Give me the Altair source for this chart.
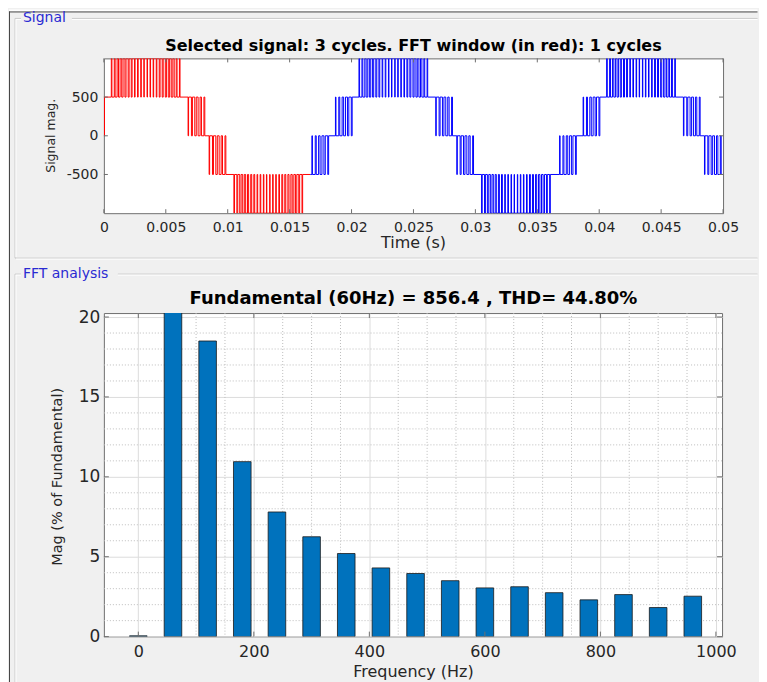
import altair as alt
import pandas as pd

# ---------------- data ----------------
# FFT analysis (bars): harmonic frequency (Hz) and magnitude (% of fundamental)
FREQ_HZ = [0, 60, 120, 180, 240, 300, 360, 420, 480, 540, 600, 660, 720, 780, 840, 900, 960]
MAG_PCT = [0.05, 100.0, 18.5, 10.95, 7.8, 6.25, 5.2, 4.3, 3.95, 3.5, 3.05, 3.12, 2.75, 2.3, 2.63, 1.82, 2.53]

FFT_X_TICKS = [0, 200, 400, 600, 800, 1000]
FFT_X_MINOR = [50, 100, 150, 250, 300, 350, 450, 500, 550, 650, 700, 750, 850, 900, 950]
FFT_Y_TICKS = [0, 5, 10, 15, 20]
FFT_Y_MINOR = [1, 2, 3, 4, 6, 7, 8, 9, 11, 12, 13, 14, 16, 17, 18, 19]

SIG_X_TICKS = [0, 0.005, 0.01, 0.015, 0.02, 0.025, 0.03, 0.035, 0.04, 0.045, 0.05]
SIG_Y_TICKS = [-500, 0, 500]

# Signal: the multilevel PWM pattern repeats every 0.02 s in the picture
CYCLE_STARTS = [-0.02, 0.0, 0.02, 0.04]
SEG_START = [0.0005, 0.0067, 0.0084, 0.0104, 0.0167, 0.0186]   # s, within a cycle
SEG_BASE = [500, 500, 0, -500, -500, 0]
SEG_PULSE = [1000, 0, -500, -1000, 0, 500]
SEG_KIND = ["wide", "ramp", "ramp", "wide", "ramp", "ramp"]
WIDE_PULSES_MS = [(0.10, 0.15), (0.34, 0.41), (0.57, 0.68), (0.81, 0.94), (1.05, 1.20),
                  (1.29, 1.46), (1.54, 1.71), (1.78, 1.97), (2.02, 2.22), (2.27, 2.48),
                  (2.52, 2.73), (2.76, 2.99), (3.02, 3.23), (3.27, 3.48), (3.52, 3.73),
                  (3.78, 3.97), (4.04, 4.21), (4.29, 4.46), (4.55, 4.70), (4.81, 4.94),
                  (5.07, 5.18), (5.34, 5.41), (5.60, 5.65)]
RAMP_PULSES_MS = [(0.10, 0.14), (0.37, 0.45), (0.64, 0.76), (0.91, 1.07), (1.18, 1.38)]
RAMP_SETTLE_MS = 1.45
T_RED_END = 1.0 / 60.0   # FFT window: 1 cycle

TOP_TITLE = "Selected signal: 3 cycles. FFT window (in red): 1 cycles"
BOT_TITLE = "Fundamental (60Hz) = 856.4 , THD= 44.80%"


def build_signal():
    events = []
    for c in CYCLE_STARTS:
        for s, base, pulse, kind in zip(SEG_START, SEG_BASE, SEG_PULSE, SEG_KIND):
            t0 = c + s
            pulses = WIDE_PULSES_MS if kind == "wide" else RAMP_PULSES_MS
            for a, b in pulses:
                events.append((t0 + a / 1000.0, pulse))
                events.append((t0 + b / 1000.0, base))
            if kind == "ramp":
                events.append((t0 + RAMP_SETTLE_MS / 1000.0, pulse))
    events.sort()

    def level_at(t):
        v = 0
        for te, ve in events:
            if te <= t:
                v = ve
            else:
                break
        return v

    inside = [(t, v) for t, v in events if 0 < t < 0.05]
    pts = [(0.0, level_at(0.0))] + inside + [(0.05, level_at(0.05))]
    vr = level_at(T_RED_END)
    rows = [{"t": t, "v": v, "part": "window"} for t, v in pts if t < T_RED_END]
    rows.append({"t": T_RED_END, "v": vr, "part": "window"})
    rows.append({"t": T_RED_END, "v": vr, "part": "rest"})
    rows += [{"t": t, "v": v, "part": "rest"} for t, v in pts if t > T_RED_END]
    return pd.DataFrame(rows)


FONT = "DejaVu Sans"
FRAME = "#6e6e6e"
TXT = "#262626"
BOX = "#c9c9c9"
RIGHT = 654.5           # right-most drawn pixel, relative to the plot left edge
BOTTOM_REL = 378        # lowest drawn pixel, relative to the FFT plot top
one = pd.DataFrame({"k": [0]})


def hline(x1, x2, y, color, w=1):
    return alt.Chart(one).mark_rule(color=color, strokeWidth=w).encode(
        x=alt.value(x1), x2=alt.value(x2), y=alt.value(y), y2=alt.value(y))


def vline(x, y1, y2, color, w=1):
    return alt.Chart(one).mark_rule(color=color, strokeWidth=w).encode(
        x=alt.value(x), x2=alt.value(x), y=alt.value(y1), y2=alt.value(y2))


def label(txt, x, y, size, weight="normal", color=TXT, angle=0, align="center"):
    return alt.Chart(one).mark_text(
        text=txt, font=FONT, fontSize=size, fontWeight=weight, color=color,
        angle=angle, align=align, baseline="middle").encode(x=alt.value(x), y=alt.value(y))


def axis(values, fmt_expr, pad, size, grid):
    return alt.Axis(values=values, labelExpr=fmt_expr, title=None, grid=grid, gridColor="#dcdcdc",
                    ticks=False, tickSize=0, domain=False, labelFont=FONT, labelFontSize=size,
                    labelColor=TXT, labelPadding=pad, labelFlush=False, labelOverlap=False)


# ---------------- top: signal ----------------
W1, H1 = 620, 155
xs1 = alt.Scale(domain=[0, 0.05], nice=False, zero=False)
ys1 = alt.Scale(domain=[-1000, 1000], nice=False, zero=False)
ax1x = axis(SIG_X_TICKS, "datum.value + ''", 7, 14, False)
ax1y = axis(SIG_Y_TICKS, "datum.value + ''", 6, 14, False)
sig_df = build_signal()

sig_line = alt.Chart(sig_df).mark_line(interpolate="step-after", strokeWidth=1, clip=True).encode(
    x=alt.X("t:Q", scale=xs1, axis=ax1x),
    y=alt.Y("v:Q", scale=ys1, axis=ax1y),
    color=alt.Color("part:N", scale=alt.Scale(domain=["window", "rest"], range=["#ff0000", "#0000ff"]),
                    legend=None),
    order=alt.Order("t:Q"),
)

sxt = pd.DataFrame({"t": SIG_X_TICKS})
syt = pd.DataFrame({"v": SIG_Y_TICKS})
sig_ticks = [
    alt.Chart(sxt).mark_rule(color=FRAME).encode(x=alt.X("t:Q", scale=xs1, axis=ax1x), y=alt.value(H1), y2=alt.value(H1 - 4)),
    alt.Chart(sxt).mark_rule(color=FRAME).encode(x=alt.X("t:Q", scale=xs1, axis=ax1x), y=alt.value(0), y2=alt.value(4)),
    alt.Chart(syt).mark_rule(color=FRAME).encode(y=alt.Y("v:Q", scale=ys1, axis=ax1y), x=alt.value(0), x2=alt.value(4)),
    alt.Chart(syt).mark_rule(color=FRAME).encode(y=alt.Y("v:Q", scale=ys1, axis=ax1y), x=alt.value(W1 - 4), x2=alt.value(W1)),
]

# window decorations (relative to the top plot origin)
deco_top = [
    alt.Chart(one).mark_rect(color="white").encode(x=alt.value(-95), x2=alt.value(RIGHT), y=alt.value(-49), y2=alt.value(-47)),
    hline(-95, RIGHT, -46.5, "#444444"),
    vline(-94.5, -47, 255 + BOTTOM_REL, "#444444"),
    hline(-89, -83, -40, BOX), hline(-89, -83, -39, "white"),
    hline(-32, RIGHT, -40, BOX), hline(-32, RIGHT, -39, "white"),
    vline(-89, -40, 200, BOX), vline(-88, -39, 199, "white"),
    hline(-89, RIGHT, 200, BOX), hline(-88, RIGHT, 201, "white"),
    label("Signal", -81, -40, 14, color="#2a2ad2", align="left"),
]

top_txt = [
    label(TOP_TITLE, 310, -12, 16, weight="bold", color="#000000"),
    label("Signal mag.", -53, 77.5, 12.5, angle=270),
    label("Time (s)", 310, 185, 16),
]

top = alt.layer(*deco_top, sig_line, *sig_ticks, *top_txt).properties(width=W1, height=H1)

# ---------------- bottom: FFT ----------------
W2, H2 = 619, 324
xs2 = alt.Scale(domain=[-51, 1002], nice=False, zero=False)
ys2 = alt.Scale(domain=[0, 20.25], nice=False, zero=False)
ax2x = axis(FFT_X_TICKS, "datum.value + ''", 7, 16, True)
ax2y = axis(FFT_Y_TICKS, "datum.value + ''", 4, 17, True)
fft_df = pd.DataFrame({"f": FREQ_HZ, "m": MAG_PCT})

xminor = alt.Chart(pd.DataFrame({"f": FFT_X_MINOR})).mark_rule(
    color="#bdbdbd", strokeDash=[1, 2], strokeWidth=1).encode(
    x=alt.X("f:Q", scale=xs2, axis=ax2x), y=alt.value(0), y2=alt.value(H2))
yminor = alt.Chart(pd.DataFrame({"m": FFT_Y_MINOR})).mark_rule(
    color="#bdbdbd", strokeDash=[1, 2], strokeWidth=1).encode(
    y=alt.Y("m:Q", scale=ys2, axis=ax2y), x=alt.value(0), x2=alt.value(W2))

bars = alt.Chart(fft_df).mark_bar(size=17.6, color="#0072BD", stroke="#1a1a1a", strokeWidth=0.8, clip=True).encode(
    x=alt.X("f:Q", scale=xs2, axis=ax2x),
    y=alt.Y("m:Q", scale=ys2, axis=ax2y),
)

fxt = pd.DataFrame({"f": FFT_X_TICKS})
fyt = pd.DataFrame({"m": FFT_Y_TICKS})
fft_ticks = [
    alt.Chart(fxt).mark_rule(color=FRAME).encode(x=alt.X("f:Q", scale=xs2, axis=ax2x), y=alt.value(H2), y2=alt.value(H2 - 5)),
    alt.Chart(fxt).mark_rule(color=FRAME).encode(x=alt.X("f:Q", scale=xs2, axis=ax2x), y=alt.value(0), y2=alt.value(5)),
    alt.Chart(fyt).mark_rule(color=FRAME).encode(y=alt.Y("m:Q", scale=ys2, axis=ax2y), x=alt.value(0), x2=alt.value(5)),
    alt.Chart(fyt).mark_rule(color=FRAME).encode(y=alt.Y("m:Q", scale=ys2, axis=ax2y), x=alt.value(W2 - 5), x2=alt.value(W2)),
]

deco_bot = [
    hline(-89, -83, -39, BOX), hline(-89, -83, -38, "white"),
    hline(14, RIGHT, -39, BOX), hline(14, RIGHT, -38, "white"),
    vline(-89, -39, BOTTOM_REL, BOX), vline(-88, -38, BOTTOM_REL, "white"),
    label("FFT analysis", -81, -39, 14, color="#2a2ad2", align="left"),
]

bot_txt = [
    label(BOT_TITLE, 310, -14, 18, weight="bold", color="#000000"),
    label("Mag (% of Fundamental)", -46, 164, 14.5, angle=270),
    label("Frequency (Hz)", 310, 359, 16),
]

bottom = alt.layer(*deco_bot, xminor, yminor, bars, *fft_ticks, *bot_txt).properties(width=W2, height=H2)

chart = alt.vconcat(top, bottom, spacing=100, bounds="flush").properties(padding=0).configure(
    background="#f0f0f0", font=FONT
).configure_view(fill="white", stroke=FRAME, strokeWidth=1)

chart.save("out.html", embed_options={"renderer": "svg", "actions": False})
